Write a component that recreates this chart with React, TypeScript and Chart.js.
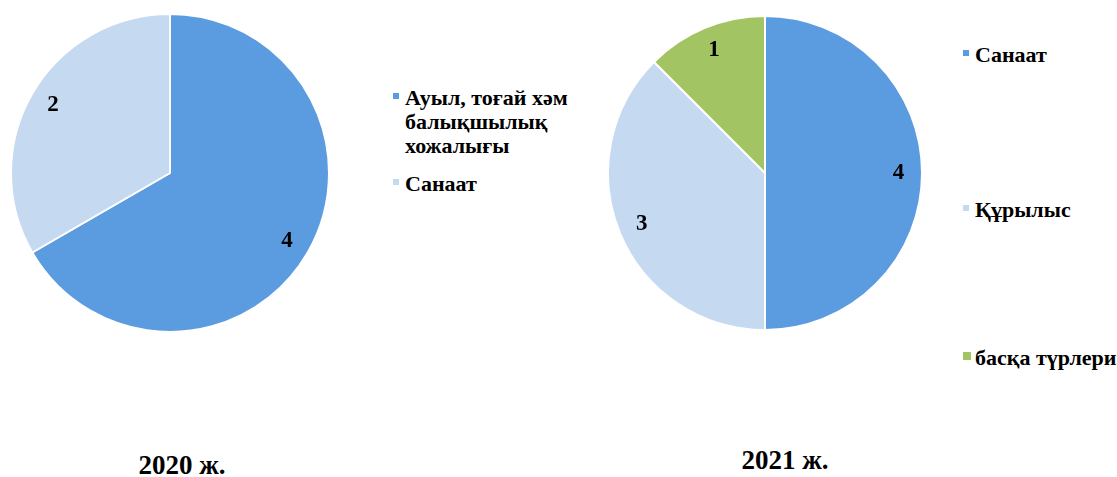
import React, { useEffect, useRef } from "react";
import { Chart, registerables } from "chart.js";

Chart.register(...registerables);

const labels2020 = ["Ауыл, тоғай хәм балықшылық хожалығы", "Санаат"];
const values2020 = [4, 2];
const colors2020 = ["#5B9BE0", "#C5D9F1"];

const labels2021 = ["Санаат", "Құрылыс", "басқа түрлери"];
const values2021 = [4, 3, 1];
const colors2021 = ["#5B9BE0", "#C5D9F1", "#A3C462"];

const title2020 = "2020 ж.";
const title2021 = "2021 ж.";

const FONT = '"Liberation Serif", "DejaVu Serif", "Noto Serif", serif';

const valueLabelPlugin = {
  id: "valueLabels",
  afterDatasetsDraw(chart: any) {
    const ctx = chart.ctx;
    const meta = chart.getDatasetMeta(0);
    const data = chart.data.datasets[0].data;
    ctx.save();
    ctx.font = `bold 23px ${FONT}`;
    ctx.fillStyle = "#000";
    ctx.textAlign = "center";
    ctx.textBaseline = "middle";
    meta.data.forEach((arc: any, i: number) => {
      const p = arc.getProps(["x", "y", "startAngle", "endAngle", "outerRadius"], true);
      const mid = (p.startAngle + p.endAngle) / 2;
      const r = p.outerRadius * 0.85;
      ctx.fillText(String(data[i]), p.x + Math.cos(mid) * r, p.y + Math.sin(mid) * r);
    });
    ctx.restore();
  },
};

function Pie({ labels, values, colors, left, top, size }: any) {
  const ref = useRef<HTMLCanvasElement>(null);
  useEffect(() => {
    const chart = new Chart(ref.current as HTMLCanvasElement, {
      type: "pie",
      data: {
        labels,
        datasets: [
          {
            data: values,
            backgroundColor: colors,
            borderColor: "#ffffff",
            borderWidth: 2,
          },
        ],
      },
      options: {
        animation: false,
        responsive: false,
        maintainAspectRatio: false,
        layout: { padding: 0 },
        plugins: { legend: { display: false }, tooltip: { enabled: false } },
      },
      plugins: [valueLabelPlugin],
    });
    return () => chart.destroy();
  }, []);
  return (
    <canvas
      ref={ref}
      width={size}
      height={size}
      style={{ position: "absolute", left, top, width: size, height: size }}
    />
  );
}

function LegendItem({ color, text, x, y, width, marker = 6, nowrap = false }: any) {
  return (
    <div
      style={{
        position: "absolute",
        left: x,
        top: y,
        width,
        fontFamily: FONT,
        fontWeight: "bold",
        fontSize: 22,
        lineHeight: "24px",
        color: "#000",
        paddingLeft: 12,
        whiteSpace: nowrap ? "nowrap" : "normal",
      }}
    >
      <span
        style={{
          position: "absolute",
          left: 0,
          top: 12 - marker / 2 - 2,
          width: marker,
          height: marker,
          background: color,
        }}
      />
      {text}
    </div>
  );
}

const titleStyle: any = {
  position: "absolute",
  width: 200,
  textAlign: "center",
  fontFamily: FONT,
  fontWeight: "bold",
  fontSize: 27,
  lineHeight: "30px",
  color: "#000",
};

export default function App() {
  return (
    <div
      style={{
        position: "fixed",
        left: 0,
        top: 0,
        width: 1117,
        height: 477,
        background: "#fff",
        overflow: "hidden",
      }}
    >
      <Pie labels={labels2020} values={values2020} colors={colors2020} left={10} top={13} size={320} />
      <Pie labels={labels2021} values={values2021} colors={colors2021} left={607} top={15} size={316} />

      <LegendItem color={colors2020[0]} text={labels2020[0]} x={393} y={86} width={200} />
      <LegendItem color={colors2020[1]} text={labels2020[1]} x={393} y={172} width={200} />

      <LegendItem color={colors2021[0]} text={labels2021[0]} x={963} y={43} width={160} nowrap />
      <LegendItem color={colors2021[1]} text={labels2021[1]} x={963} y={198} width={160} nowrap />
      <LegendItem color={colors2021[2]} text={labels2021[2]} x={963} y={346} width={160} marker={8} nowrap />

      <div style={{ ...titleStyle, left: 82, top: 450 }}>{title2020}</div>
      <div style={{ ...titleStyle, left: 685, top: 445 }}>{title2021}</div>
    </div>
  );
}
